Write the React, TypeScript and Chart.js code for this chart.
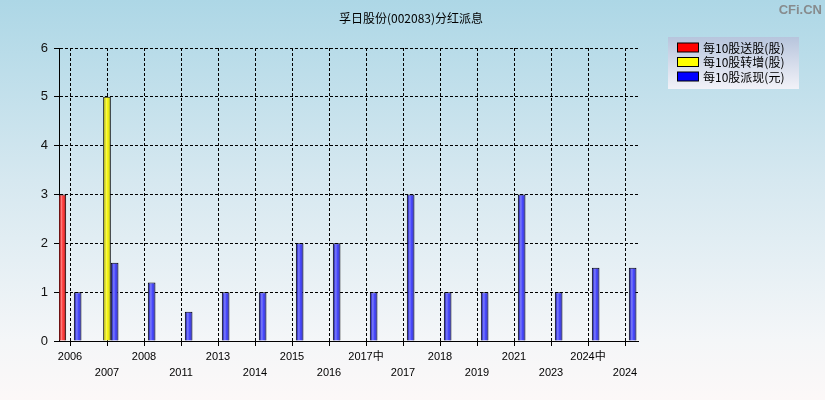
import React, { useEffect, useRef } from "react";
import { Chart, registerables } from "chart.js";

Chart.register(...registerables);

const categories = ["2006", "2007", "2008", "2011", "2013", "2014", "2015", "2016", "2017中", "2017", "2018", "2019", "2021", "2023", "2024中", "2024"];
const songGu: (number | null)[] = [3, null, null, null, null, null, null, null, null, null, null, null, null, null, null, null];
const zhuanZeng: (number | null)[] = [null, 5, null, null, null, null, null, null, null, null, null, null, null, null, null, null];
const paiXian: (number | null)[] = [1, 1.6, 1.2, 0.6, 1, 1, 2, 2, 1, 3, 1, 1, 3, 1, 1.5, 1.5];
const yTicks = [0, 1, 2, 3, 4, 5, 6];

const seriesNames = ["每10股送股(股)", "每10股转增(股)", "每10股派现(元)"];
const seriesColors = ["#ff2a2a", "#f6f600", "#3a3aff"];

const FONT = "'Liberation Sans', Arial, 'Noto Sans CJK SC', sans-serif";

const toPoints = (arr: (number | null)[]) =>
  arr.map((v, i) => (v === null ? null : { x: i, y: v })).filter((p) => p !== null);

const shadePlugin = {
  id: "shade",
  afterDatasetsDraw(chart: any) {
    const ctx = chart.ctx;
    chart.data.datasets.forEach((_: any, di: number) => {
      const meta = chart.getDatasetMeta(di);
      meta.data.forEach((el: any) => {
        const { x, y, base, width } = el.getProps(["x", "y", "base", "width"], true);
        const l = x - width / 2 + 1;
        const w = width - 2;
        const g = ctx.createLinearGradient(l, 0, l + w, 0);
        g.addColorStop(0, "rgba(0,0,0,0.22)");
        g.addColorStop(0.35, "rgba(255,255,255,0.38)");
        g.addColorStop(0.6, "rgba(255,255,255,0.05)");
        g.addColorStop(1, "rgba(0,0,0,0.3)");
        ctx.save();
        ctx.fillStyle = g;
        ctx.fillRect(l, y + 1, w, base - y - 1);
        ctx.restore();
      });
    });
  },
};

const decorPlugin = {
  id: "decor",
  afterDraw(chart: any) {
    const ctx = chart.ctx;
    ctx.save();
    // title
    ctx.fillStyle = "#000";
    ctx.font = `12px 'Noto Sans CJK SC', sans-serif`;
    ctx.textAlign = "center";
    ctx.textBaseline = "middle";
    ctx.fillText("孚日股份(002083)分红派息", 411, 18);
    // watermark
    ctx.fillStyle = "#878b8d";
    ctx.font = `bold 13px 'Liberation Sans', sans-serif`;
    ctx.textAlign = "right";
    ctx.fillText("CFi.CN", 822, 10);
    // legend
    const lx = 668, ly = 37, lw = 131, lh = 52;
    const g = ctx.createLinearGradient(0, ly, 0, ly + lh);
    g.addColorStop(0, "#b7c5dd");
    g.addColorStop(1, "#f2f2f8");
    ctx.fillStyle = g;
    ctx.fillRect(lx, ly, lw, lh);
    const rowY = [47.5, 62, 76.5];
    ctx.textAlign = "left";
    ctx.font = `12px 'Noto Sans CJK SC', sans-serif`;
    for (let i = 0; i < 3; i++) {
      ctx.fillStyle = ["#ff0000", "#ffff00", "#0000ff"][i];
      ctx.fillRect(677.5, rowY[i] - 4.5, 21, 9);
      ctx.strokeStyle = "#000";
      ctx.lineWidth = 1;
      ctx.strokeRect(677.5, rowY[i] - 4.5, 21, 9);
      ctx.fillStyle = "#000";
      ctx.fillText(seriesNames[i], 703, rowY[i] + 0.5);
    }
    ctx.restore();
  },
};

export default function App() {
  const ref = useRef<HTMLCanvasElement>(null);
  useEffect(() => {
    document.body.style.margin = "0";
    const datasets = [songGu, zhuanZeng, paiXian].map((arr, i) => ({
      label: seriesNames[i],
      data: toPoints(arr),
      backgroundColor: seriesColors[i],
      borderColor: "#000",
      borderWidth: 1,
      borderSkipped: "bottom" as const,
      categoryPercentage: 0.62,
      barPercentage: 1,
    }));
    const gridOpts = {
      color: "#000",
      lineWidth: 1,
      drawTicks: true,
      tickLength: 5,
      tickColor: "#000",
      tickBorderDash: [],
      offset: false,
    } as any;
    const chart = new Chart(ref.current!, {
      type: "bar",
      data: { datasets: datasets as any },
      options: {
        animation: false,
        responsive: false,
        maintainAspectRatio: false,
        layout: { padding: { top: 48, right: 187, left: 0, bottom: 0 } },
        plugins: { legend: { display: false }, title: { display: false }, tooltip: { enabled: false } },
        scales: {
          x: {
            type: "linear",
            min: -11 / 37,
            max: 15 + 13 / 37,
            offset: false,
            afterBuildTicks: (axis: any) => {
              axis.ticks = categories.map((_, i) => ({ value: i }));
            },
            afterFit: (axis: any) => {
              axis.height = 59;
            },
            grid: gridOpts,
            border: { display: true, color: "#000", width: 1, dash: [3, 2] },
            ticks: {
              autoSkip: false,
              maxRotation: 0,
              padding: 3,
              color: "#000",
              font: { family: FONT, size: 11, lineHeight: 1.45 },
              callback: (v: any) => {
                const i = Math.round(Number(v));
                const lab = categories[i] ?? "";
                return i % 2 === 0 ? lab : ["", lab];
              },
            },
          },
          y: {
            min: 0,
            max: 6,
            afterBuildTicks: (axis: any) => {
              axis.ticks = yTicks.map((v) => ({ value: v }));
            },
            afterFit: (axis: any) => {
              axis.width = 59;
            },
            grid: gridOpts,
            border: { display: true, color: "#000", width: 1, dash: [3, 2] },
            ticks: {
              padding: 6,
              color: "#111",
              font: { family: FONT, size: 13 },
            },
          },
        },
      },
      plugins: [shadePlugin, decorPlugin],
    });
    return () => chart.destroy();
  }, []);
  return (
    <div
      style={{
        position: "fixed",
        left: 0,
        top: 0,
        width: 825,
        height: 400,
        background: "linear-gradient(to bottom, #add7e6 0%, #d6e8f0 45%, #f4f6f8 85%, #fcf8f8 100%)",
      }}
    >
      <canvas ref={ref} width={825} height={400} style={{ width: 825, height: 400, display: "block" }} />
    </div>
  );
}
